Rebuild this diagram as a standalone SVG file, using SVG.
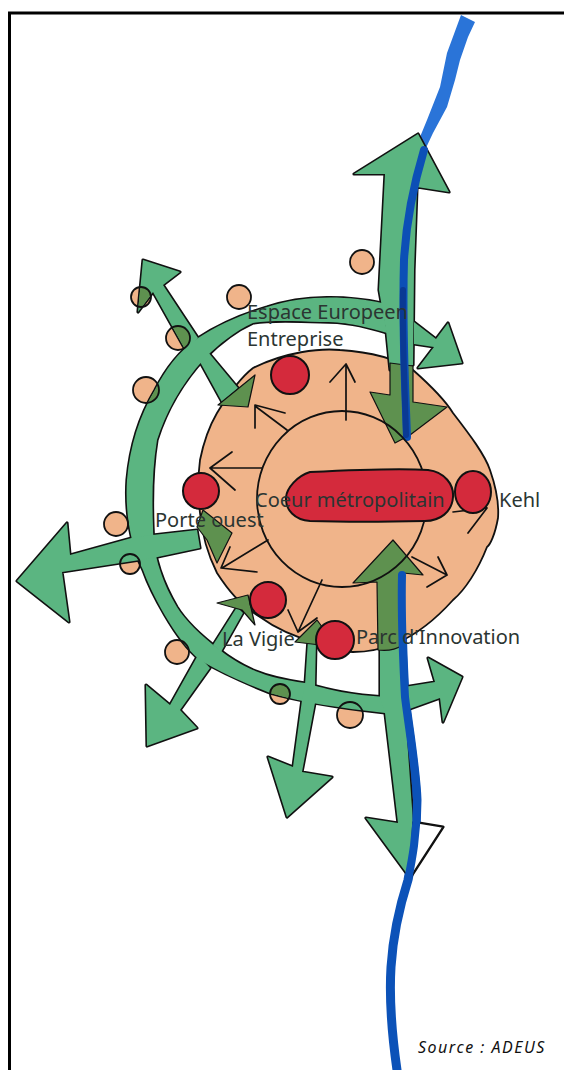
<svg xmlns="http://www.w3.org/2000/svg" width="564" height="1070" viewBox="0 0 564 1070">
<style>
.ol{fill:#111;stroke:#111;stroke-width:3.2;stroke-linejoin:round}
.gr{fill:#5bb581;stroke:none}
.dk{fill:#5e914f;stroke:#111;stroke-width:1.2;stroke-linejoin:round}
.dkn{fill:#5e914f;stroke:none}
.wh{fill:#fff;stroke:#111;stroke-width:1.5;stroke-linejoin:round}
.riv{fill:none;stroke:#0c52b8;stroke-linecap:round;stroke-linejoin:round}
.pf{fill:#f0b48a;stroke:none}
.po{fill:none;stroke:#111;stroke-width:1.8}
.re{fill:#d42a3c;stroke:#111;stroke-width:2}
.th{fill:none;stroke:#111;stroke-width:1.7;stroke-linecap:round;stroke-linejoin:round}
.t{font-family:"Noto Sans","Open Sans","DejaVu Sans",sans-serif;font-size:20px;fill:#2b3532}
.s{font-family:"Noto Sans","DejaVu Sans",sans-serif;font-size:16px;font-style:italic;fill:#111;letter-spacing:1.5px}
</style>
<defs>
<path id="ring" d="M382 303C350 296 305 294 267 307C240 315 218 325 198 338C178 352 165 370 155 390C140 415 130 445 127 480C125 510 130 545 143 570C150 590 175 640 200 660C225 675 250 685 270 693C305 703 340 708 385 713L386 697C350 695 330 690 305 683C285 680 270 677 253 670C240 664 230 658 220 650C200 635 185 620 177 607C170 595 165 585 160 570C155 555 153 540 153 527C152 500 152 470 157 440C165 415 180 385 205 358C218 345 235 331 253 323C270 320 295 321 320 322C345 322 360 325 387 333Z"/>
<path id="nmain" d="M354 174L418 134L449 192L417 187L414 270L413 365L390 370L386 330L379 290L385 174Z"/>
<path id="nehead" d="M414 322L436 339L448 323L462 363L418 368L434 347L414 344Z"/>
<path id="smain" d="M380 583L402 575L405 710L413 822L443 827L410 878L366 818L398 823L385 713L380 697Z"/>
<path id="ehead" d="M404 687L435 682L428 658L462 677L443 722L440 698L404 711Z"/>
<path id="west" d="M17 581L67 523L70 555L135 537L197 530L200 548L153 558L62 572L69 622Z"/>
<path id="nw" d="M143 260L180 272L163 285L198 338L186 351L153 292L138 312Z"/>
<path id="nw2" d="M200 362L208 352L238 388L222 402Z"/>
<path id="sw" d="M198 655L210 668L180 710L197 728L147 746L146 685L170 705Z"/>
<path id="sw2" d="M213 645L237 607L243 613L221 652Z"/>
<path id="s2" d="M308 640L316 640L315 687L315 703L302 772L332 777L287 817L268 757L293 767L302 700L305 685Z"/>
<clipPath id="c1"><circle cx="141" cy="297" r="10"/></clipPath>
<clipPath id="c2"><circle cx="178" cy="338" r="12"/></clipPath>
<clipPath id="c3"><circle cx="280" cy="694" r="10"/></clipPath>
<clipPath id="c4"><circle cx="146" cy="390" r="13"/></clipPath>
</defs>
<rect width="564" height="1070" fill="#fff"/>
<path d="M9.5 1070V13H564" fill="none" stroke="#000" stroke-width="3"/>
<g id="river">
<path d="M461 15L475 22L468 37L460 60L455 80L447 107L433 133L425 150L412 200L405 200L420 137L427 120L440 87L447 53Z" fill="#2a74d8"/>
<path class="riv" d="M402 575C401 620 403 660 405 697C409 730 416 770 417 800C417 835 412 860 408 880C400 905 393 935 391 967C389 1000 392 1035 397 1070" stroke-width="9"/>
</g>
<g id="node-blob">
<path d="M253 368C285 352 320 348 340 350C370 352 395 358 413 370C430 385 445 400 453 413C470 435 485 455 490 470C497 490 499 505 498 518C495 535 490 545 487 547C478 570 465 590 453 600C435 620 415 635 397 643C380 650 365 652 353 652C340 652 328 650 317 643C295 637 275 628 260 617C240 605 228 590 217 573C208 555 202 535 200 513C198 495 198 475 200 460C204 440 210 425 217 413C228 395 240 378 253 368Z" fill="#f0b48a" stroke="#111" stroke-width="1.8"/>
</g>
<g id="node-towns-fill">
<circle class="pf" cx="362" cy="262" r="12"/>
<circle class="pf" cx="239" cy="297" r="12"/>
<circle class="pf" cx="141" cy="297" r="10"/>
<circle class="pf" cx="178" cy="338" r="12"/>
<circle class="pf" cx="146" cy="390" r="13"/>
<circle class="pf" cx="116" cy="524" r="12"/>
<circle class="pf" cx="130" cy="564" r="10"/>
<circle class="pf" cx="177" cy="652" r="12"/>
<circle class="pf" cx="280" cy="694" r="10"/>
<circle class="pf" cx="350" cy="715" r="13"/>
</g>
<g id="connectors">
<g class="ol">
<use href="#ring"/><use href="#nmain"/><use href="#nehead"/><use href="#smain"/><use href="#ehead"/><use href="#west"/><use href="#nw"/><use href="#nw2"/><use href="#sw"/><use href="#sw2"/><use href="#s2"/>
</g>
<g class="gr">
<use href="#ring"/><use href="#nmain"/><use href="#nehead"/><use href="#smain"/><use href="#ehead"/><use href="#west"/><use href="#nw"/><use href="#nw2"/><use href="#sw"/><use href="#sw2"/><use href="#s2"/>
</g>
<g class="dkn">
<g clip-path="url(#c1)"><use href="#nw"/></g>
<g clip-path="url(#c2)"><use href="#nw"/></g>
<g clip-path="url(#c3)"><use href="#ring"/></g>
<g clip-path="url(#c4)"><use href="#ring"/></g>
</g>
<path d="M413 822L443 827L410 878Z" class="wh"/>
<path class="dk" d="M390 363L413 366L413 402L447 407L410 435L395 443L370 392L390 395Z"/>
<path class="dk" d="M393 540L423 575L403 573L403 645C395 650 385 651 378 650L377 582L353 583Z"/>
<path class="dk" d="M203 510L232 533L217 563L207 540L197 527Z"/>
<path class="dk" d="M218 405L255 375L248 407Z"/>
<path class="dk" d="M217 603L248 595L255 625L242 610Z"/>
<path class="dk" d="M295 642L317 620L337 647Z"/>
<path d="M424 150C412 190 406 225 404 260C402 330 405 380 407 437" fill="none" stroke="#0c4fb6" stroke-width="8" stroke-linecap="round"/>
<path d="M403 290C402 340 405 390 406 435" fill="none" stroke="#0a3a94" stroke-width="6" stroke-linecap="round"/>
<path class="riv" d="M402 575C401 620 403 660 405 697C409 730 416 770 417 800C417 835 412 860 408 880" stroke-width="8"/>
<g class="th">
<path d="M346 420V366M330 382L346 364L355 382"/>
<path d="M287 430L255 406M285 413L255 405L255 428"/>
<path d="M262 468H210M232 452L210 468L235 490"/>
<path d="M268 540L222 568M230 547L221 568L257 572"/>
<path d="M322 580L298 632M288 610L298 632L317 618"/>
<path d="M412 557L447 575M438 557L447 575L427 587"/>
<path d="M453 512L487 508M470 497L487 508L468 533"/>
</g>
</g>
<g id="node-towns">
<circle class="po" cx="362" cy="262" r="12"/>
<circle class="po" cx="239" cy="297" r="12"/>
<circle class="po" cx="141" cy="297" r="10"/>
<circle class="po" cx="178" cy="338" r="12"/>
<circle class="po" cx="146" cy="390" r="13"/>
<circle class="po" cx="116" cy="524" r="12"/>
<circle class="po" cx="130" cy="564" r="10"/>
<circle class="po" cx="177" cy="652" r="12"/>
<circle class="po" cx="280" cy="694" r="10"/>
<circle class="po" cx="350" cy="715" r="13"/>
</g>
<g id="node-inner">
<ellipse cx="342" cy="499" rx="85" ry="88" fill="none" stroke="#111" stroke-width="1.8"/>
</g>
<g id="node-coeur">
<path class="re" d="M310 472C350 470 400 468 428 470C445 472 454 485 453 497C452 512 440 521 425 521C385 522 340 522 310 521C295 520 285 510 286 497C287 488 297 476 310 472Z"/>
<text class="t" x="255" y="507">Coeur métropolitain</text>
</g>
<g id="node-kehl">
<ellipse class="re" cx="473" cy="492" rx="18" ry="21"/>
<text class="t" x="499" y="507">Kehl</text>
</g>
<g id="node-espace">
<circle class="re" cx="290" cy="375" r="19"/>
<text class="t" x="247" y="319">Espace Europeen</text>
<text class="t" x="247" y="346">Entreprise</text>
</g>
<g id="node-porte">
<circle class="re" cx="201" cy="491" r="18"/>
<text class="t" x="155" y="527">Porte ouest</text>
</g>
<g id="node-vigie">
<circle class="re" cx="268" cy="600" r="18"/>
<text class="t" x="222" y="646">La Vigie</text>
</g>
<g id="node-parc">
<circle class="re" cx="335" cy="640" r="19"/>
<text class="t" x="356" y="644">Parc d'Innovation</text>
</g>
<text class="s" x="418" y="1053">Source : ADEUS</text>
</svg>
